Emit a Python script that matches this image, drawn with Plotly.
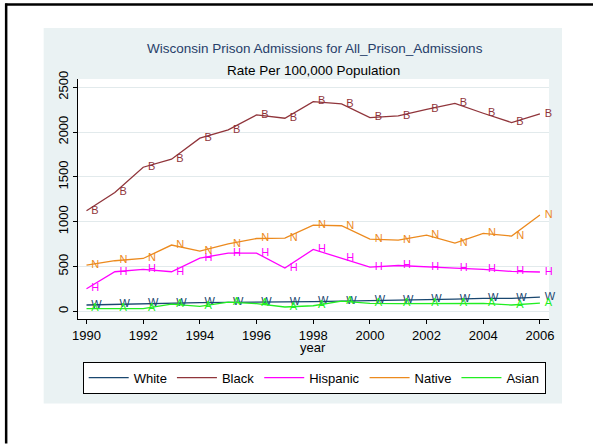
import plotly.graph_objects as go

years = list(range(1990, 2007))
white = [71, 78, 89, 93, 97, 100, 100, 100, 108, 115, 119, 123, 130, 137, 145, 145, 160]
black = [1122, 1326, 1608, 1698, 1932, 2024, 2191, 2154, 2339, 2314, 2161, 2180, 2254, 2321, 2210, 2106, 2202]
hispanic = [253, 442, 468, 442, 595, 650, 650, 483, 691, 595, 494, 512, 494, 483, 468, 446, 439]
native = [517, 565, 590, 740, 673, 754, 813, 817, 962, 955, 806, 795, 851, 762, 869, 840, 1074]
asian = [30, 30, 30, 82, 56, 104, 86, 49, 63, 115, 89, 86, 86, 93, 89, 71, 93]

series_names = ["White", "Black", "Hispanic", "Native", "Asian"]
series_labels = ["W", "B", "H", "N", "A"]
series_values = [white, black, hispanic, native, asian]
series_colors = ["#1a476f", "#90353b", "#ff00ff", "#ec8a1e", "#22ee22"]

y_ticks = [0, 500, 1000, 1500, 2000, 2500]
x_ticks = list(range(1990, 2007, 2))

W, H = 593, 444
L, R, T, B = 78.3, 549.0, 79.0, 319.3
FONT = "Liberation Sans, Arial, sans-serif"


def px(x):
    return (x - L) / (R - L)


def py(y):
    return (B - y) / (B - T)


fig = go.Figure()
for name, lab, vals, col in zip(series_names, series_labels, series_values, series_colors):
    fig.add_trace(go.Scatter(
        x=years, y=vals, name=name, mode="lines+markers+text",
        text=[lab] * len(vals), textposition="middle right",
        textfont=dict(color=col, size=11, family=FONT),
        line=dict(color=col, width=1.3),
        marker=dict(size=6, color="rgba(0,0,0,0)"),
        cliponaxis=False,
    ))

shapes = [
    # light blue graph region
    dict(type="rect", xref="paper", yref="paper", x0=px(44), x1=px(562), y0=py(404), y1=py(28),
         fillcolor="#eaf2f3", line=dict(width=0), layer="below"),
    # white plot region
    dict(type="rect", xref="paper", yref="paper", x0=0, x1=1, y0=0, y1=1,
         fillcolor="white", line=dict(width=0), layer="below"),
    # outer frame lines
    dict(type="line", xref="paper", yref="paper", x0=px(6.5), x1=px(6.5), y0=py(3.5), y1=py(444),
         line=dict(color="black", width=2.5)),
    dict(type="line", xref="paper", yref="paper", x0=px(5.5), x1=px(593), y0=py(4.5), y1=py(4.5),
         line=dict(color="black", width=2.5)),
]

annotations = [
    dict(text="Wisconsin Prison Admissions for All_Prison_Admissions", xref="paper", yref="paper",
         x=px(315.5), y=py(48), xanchor="center", yanchor="middle", showarrow=False,
         font=dict(size=13.5, color="#27406a", family=FONT)),
    dict(text="Rate Per 100,000 Population", xref="paper", yref="paper",
         x=px(313.5), y=py(70), xanchor="center", yanchor="middle", showarrow=False,
         font=dict(size=13.5, color="black", family=FONT)),
    dict(text="year", xref="paper", yref="paper",
         x=px(313.5), y=py(348), xanchor="center", yanchor="middle", showarrow=False,
         font=dict(size=13, color="black", family=FONT)),
]

fig.update_layout(
    width=W, height=H,
    margin=dict(l=L, r=W - R, t=T, b=H - B, pad=0),
    paper_bgcolor="white", plot_bgcolor="rgba(0,0,0,0)",
    font=dict(family=FONT, size=13, color="black"),
    shapes=shapes, annotations=annotations,
    showlegend=True,
    legend=dict(orientation="h", x=px(83), y=py(362), xanchor="left", yanchor="top",
                bgcolor="white", bordercolor="black", borderwidth=1,
                font=dict(size=13, family=FONT, color="black"),
                itemwidth=40, tracegroupgap=0),
    xaxis=dict(range=[1989.70, 2006.32], tickvals=x_ticks, ticktext=[str(v) for v in x_ticks],
               showgrid=False, zeroline=False, showline=True, linecolor="black", linewidth=1,
               ticks="outside", ticklen=4, tickcolor="black", tickfont=dict(size=13)),
    yaxis=dict(range=[-85, 2592], tickvals=y_ticks, ticktext=[str(v) for v in y_ticks],
               showgrid=True, gridcolor="#e2eaec", gridwidth=1, zeroline=False,
               showline=True, linecolor="black", linewidth=1,
               ticks="outside", ticklen=4, tickcolor="black", tickangle=-90,
               tickfont=dict(size=13)),
)

fig.write_html("out.html", config={"displayModeBar": False},
               post_script="document.body.style.margin='0px';document.body.style.overflow='hidden';")
